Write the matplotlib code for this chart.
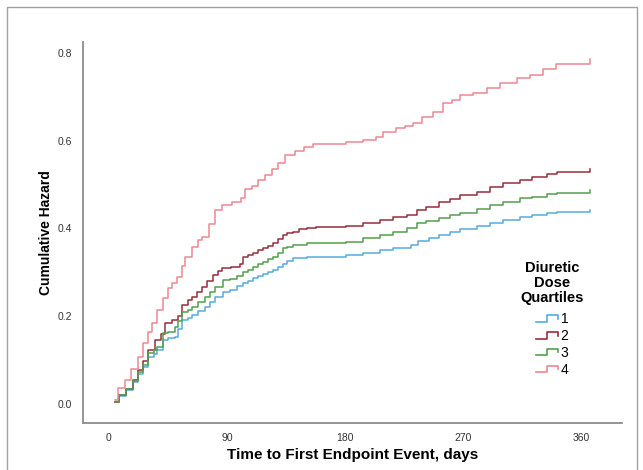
import matplotlib
matplotlib.use("Agg")
import matplotlib.pyplot as plt
from matplotlib.lines import Line2D
from matplotlib.legend_handler import HandlerBase
from matplotlib.patches import Rectangle

plt.rcParams['font.family'] = ['Liberation Sans', 'DejaVu Sans']

# cumulative hazard (days, value)
q1_days = [4.5, 8, 13, 18, 22, 26, 30, 34, 37, 41, 45, 50, 53, 56, 60, 63, 68, 73, 77, 81, 87, 92, 98,
           102, 106, 110, 114, 117.5, 121, 125, 129, 133, 136, 140, 151, 181, 194, 206.7, 216.6, 230, 236,
           244, 252, 260, 268, 280.5, 290.6, 300.5, 313.5, 323, 334, 341.5, 367]
q1_haz = [0.005, 0.018, 0.032, 0.05, 0.068, 0.085, 0.107, 0.115, 0.123, 0.146, 0.15, 0.153, 0.17, 0.191,
          0.197, 0.203, 0.212, 0.222, 0.233, 0.244, 0.255, 0.26, 0.268, 0.275, 0.281, 0.287, 0.292, 0.296,
          0.30, 0.305, 0.312, 0.32, 0.326, 0.332, 0.336, 0.34, 0.343, 0.351, 0.355, 0.362, 0.372, 0.378,
          0.385, 0.392, 0.398, 0.406, 0.413, 0.419, 0.427, 0.431, 0.435, 0.438, 0.442]

q2_days = [4.5, 8, 13, 18, 22, 26, 30, 35, 40, 43, 48, 53, 56, 60, 63, 67, 71, 75, 79, 83, 86, 93, 100,
           102, 106, 110, 114, 117.5, 121, 125, 129, 133, 136, 140, 145, 151, 158, 181, 194, 206.7, 216.6,
           227, 234.7, 242, 252, 260, 268, 280.5, 290.6, 300.5, 313.5, 323, 334, 341.5, 367]
q2_haz = [0.005, 0.02, 0.035, 0.055, 0.077, 0.098, 0.123, 0.146, 0.16, 0.184, 0.191, 0.2, 0.226, 0.236,
          0.244, 0.255, 0.267, 0.28, 0.295, 0.303, 0.31, 0.313, 0.32, 0.336, 0.34, 0.343, 0.35, 0.355,
          0.36, 0.366, 0.375, 0.385, 0.39, 0.393, 0.398, 0.40, 0.404, 0.406, 0.412, 0.419, 0.427, 0.431,
          0.442, 0.45, 0.461, 0.468, 0.476, 0.484, 0.495, 0.503, 0.51, 0.518, 0.524, 0.528, 0.536]

q3_days = [4.5, 8, 13, 18, 22, 26, 30, 34, 37, 41, 45, 50, 53, 56, 60, 63, 68, 73, 77, 81, 87, 92, 98,
           102, 106, 110, 114, 117.5, 121, 125, 129, 133, 136, 140, 151, 181, 194, 206.7, 216.6, 227,
           234.7, 242, 252, 260, 268, 280.5, 290.6, 300.5, 313.5, 323, 334, 341.5, 367]
q3_haz = [0.005, 0.02, 0.035, 0.053, 0.072, 0.09, 0.116, 0.123, 0.13, 0.161, 0.165, 0.176, 0.19, 0.21,
          0.215, 0.22, 0.232, 0.244, 0.255, 0.267, 0.283, 0.285, 0.292, 0.30, 0.306, 0.313, 0.318, 0.324,
          0.33, 0.336, 0.345, 0.355, 0.358, 0.362, 0.366, 0.37, 0.378, 0.385, 0.393, 0.40, 0.412, 0.418,
          0.423, 0.43, 0.436, 0.444, 0.454, 0.461, 0.469, 0.472, 0.478, 0.482, 0.488]

q4_days = [4.5, 7, 12, 17, 22, 26, 30, 33, 37, 41, 45, 48, 52, 56, 58, 63, 68, 71, 76, 81, 86, 94, 101,
           104, 109, 114, 119, 124, 129, 134, 142, 149, 156, 181, 194, 204, 209, 219, 226, 232, 239, 247,
           255, 262, 268, 278, 288, 298, 311, 321, 331, 341, 367]
q4_haz = [0.008, 0.036, 0.055, 0.08, 0.108, 0.14, 0.165, 0.185, 0.214, 0.241, 0.265, 0.275, 0.29, 0.315,
          0.336, 0.358, 0.374, 0.381, 0.41, 0.442, 0.454, 0.461, 0.469, 0.49, 0.497, 0.51, 0.522, 0.535,
          0.549, 0.567, 0.576, 0.586, 0.593, 0.597, 0.602, 0.609, 0.621, 0.628, 0.633, 0.64, 0.655, 0.666,
          0.685, 0.692, 0.704, 0.708, 0.72, 0.732, 0.742, 0.75, 0.763, 0.776, 0.786]

labels = ['1', '2', '3', '4']
colors = ['#56abdc', '#962d3a', '#539e4e', '#ec8791']
x_ticks = [0, 90, 180, 270, 360]
y_ticks = [0.0, 0.2, 0.4, 0.6, 0.8]


class StepHandler(HandlerBase):
    # little step glyph like the SPSS legend
    def create_artists(self, legend, orig_handle, xdescent, ydescent, width, height, fontsize, trans):
        x0 = -xdescent
        y0 = -ydescent
        xs = [x0, x0 + 0.5 * width, x0 + 0.5 * width, x0 + width, x0 + width]
        ys = [y0 + 0.15 * height, y0 + 0.15 * height, y0 + 0.8 * height, y0 + 0.8 * height, y0 + 0.45 * height]
        line = Line2D(xs, ys, color=orig_handle.get_color(), lw=1.2)
        line.set_transform(trans)
        return [line]


fig = plt.figure(figsize=(6.43, 4.70), dpi=100)
ax = fig.add_axes([83 / 643, 1 - 423 / 470, 539 / 643, 381 / 470])

series = [(q1_days, q1_haz), (q2_days, q2_haz), (q3_days, q3_haz), (q4_days, q4_haz)]
handles = []
for (t, h), lab, c in zip(series, labels, colors):
    ln, = ax.plot(t, h, drawstyle='steps-post', color=c, lw=1.1, label=lab)
    handles.append(ln)

ax.set_xlim(-19.8, 391.3)
ax.set_ylim(-0.0433, 0.825)
ax.set_xticks(x_ticks)
ax.set_xticklabels([str(v) for v in x_ticks])
ax.set_yticks(y_ticks)
ax.set_yticklabels([f'{v:.1f}' for v in y_ticks])
ax.tick_params(length=0, labelsize=7.5, labelcolor='#333333')
ax.tick_params(axis='y', pad=8)
ax.tick_params(axis='x', pad=7)

for s in ['top', 'right']:
    ax.spines[s].set_visible(False)
for s in ['left', 'bottom']:
    ax.spines[s].set_color('#8c8c8c')
    ax.spines[s].set_linewidth(1.3)

ax.set_xlabel('Time to First Endpoint Event, days', fontsize=11, fontweight='bold', labelpad=4)
ax.set_ylabel('Cumulative Hazard', fontsize=10, fontweight='bold', labelpad=3)

leg = ax.legend(handles=handles, labels=labels, title='Diuretic\nDose\nQuartiles',
                handler_map={Line2D: StepHandler()}, frameon=False, fontsize=10,
                title_fontproperties={'weight': 'bold', 'size': 10.5},
                loc='center', bbox_to_anchor=((552 - 83) / 539, (423 - 319) / 381),
                handlelength=1.6, handletextpad=0.2, labelspacing=0.2, borderpad=0.2)
leg.get_title().set_linespacing(1.05)
leg.get_title().set_multialignment('center')
leg._legend_box.align = 'center'
leg._legend_box.sep = 5.5

# thin grey border around the whole picture
fig.patches.append(Rectangle((7 / 643, -0.02), 630 / 643, 1.02 - 7 / 470, transform=fig.transFigure,
                             fill=False, edgecolor='#a0a0a0', lw=1.0))

fig.savefig('out.png', dpi=100)
